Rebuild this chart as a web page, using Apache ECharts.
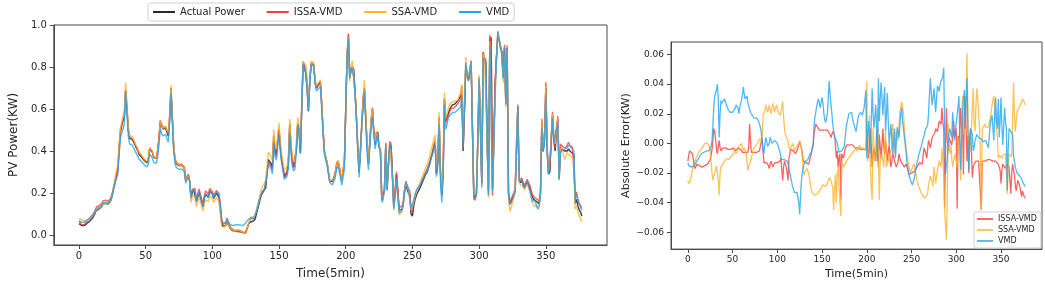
<!DOCTYPE html>
<html><head><meta charset="utf-8">
<script src="https://cdn.jsdelivr.net/npm/echarts@6/dist/echarts.min.js"></script>
<style>html,body{margin:0;padding:0;background:#fff}#c{width:1045px;height:285px}</style>
</head><body><div id="c"></div>
<script>
// Actual PV power (KW), one value per 5-minute step, index 0..377
const actualPower = [
.055,.050,.046,.044,.045,.049,.055,.060,.066,.072,
.080,.090,.102,.118,.124,.124,.126,.135,.148,.152,
.151,.149,.147,.150,.165,.190,.220,.250,.280,.310,
.400,.490,.520,.545,.560,.690,.600,.500,.460,.455,
.455,.450,.430,.415,.405,.385,.380,.370,.362,.355,
.348,.345,.360,.410,.415,.395,.370,.365,.365,.400,
.460,.540,.520,.505,.500,.510,.490,.470,.560,.700,
.560,.420,.360,.340,.335,.330,.330,.332,.335,.318,
.260,.265,.285,.260,.175,.205,.215,.210,.160,.180,
.205,.200,.160,.135,.175,.195,.190,.180,.210,.205,
.195,.175,.170,.200,.205,.180,.125,.060,.043,.042,
.045,.062,.050,.035,.028,.022,.020,.019,.018,.017,
.017,.016,.014,.012,.008,.010,.030,.050,.060,.068,
.065,.066,.075,.100,.125,.150,.175,.195,.205,.215,
.225,.300,.360,.365,.340,.320,.470,.400,.380,.450,
.505,.420,.360,.320,.280,.275,.300,.350,.530,.420,
.350,.325,.330,.410,.530,.500,.390,.600,.810,.800,
.770,.700,.590,.720,.810,.810,.810,.730,.700,.710,
.720,.730,.620,.500,.400,.370,.345,.300,.258,.255,
.255,.258,.290,.330,.350,.330,.290,.262,.262,.350,
.600,.850,.950,.750,.790,.800,.790,.680,.560,.420,
.300,.400,.520,.640,.700,.560,.430,.340,.440,.540,
.600,.500,.430,.480,.490,.420,.400,.170,.170,.210,
.430,.220,.330,.430,.420,.280,.130,.200,.290,.210,
.120,.115,.120,.140,.200,.240,.220,.200,.190,.100,
.090,.140,.170,.190,.205,.215,.230,.245,.260,.275,
.290,.300,.320,.340,.370,.390,.420,.440,.290,.350,
.560,.300,.190,.300,.650,.540,.560,.580,.600,.610,
.620,.620,.625,.630,.640,.650,.660,.670,.400,.600,
.810,.760,.740,.780,.830,.500,.190,.180,.200,.450,
.750,.500,.250,.870,.840,.820,.450,.210,.930,.940,
.220,.450,.720,.850,.950,.930,.900,.870,.750,.890,
.620,.890,.200,.150,.160,.175,.190,.210,.400,.610,
.260,.250,.260,.240,.225,.230,.255,.240,.225,.200,
.180,.170,.165,.160,.155,.150,.200,.540,.400,.450,
.700,.400,.290,.300,.450,.570,.450,.400,.500,.550,
.270,.400,.410,.405,.400,.395,.400,.410,.400,.395,
.390,.380,.150,.170,.140,.120,.110,.090
];
// Absolute error (KW) = actual - prediction
const errISSA = [
-.012,-.008,-.005,-.004,-.005,-.007,-.010,-.015,-.017,-.016,
-.014,-.014,-.015,-.015,-.015,-.016,-.016,-.015,-.015,-.015,
-.015,-.014,-.014,-.014,-.013,-.011,-.008,-.004,.002,.010,
.008,.003,-.004,-.007,-.002,.002,-.003,-.005,-.004,-.003,
-.003,-.004,-.003,-.003,-.004,-.004,-.005,-.005,-.004,-.004,
-.004,-.003,-.004,-.005,-.005,-.004,-.003,-.002,-.003,-.004,
-.005,-.006,-.007,-.007,-.006,-.006,-.006,-.006,-.003,.013,
.002,-.006,-.006,-.006,-.006,-.006,-.006,-.006,-.006,-.006,
-.005,-.005,-.004,.004,-.005,-.013,-.012,-.012,-.013,-.014,
-.015,-.017,-.014,-.012,-.014,-.016,-.015,-.013,-.012,-.012,
-.013,-.013,-.013,-.012,-.010,-.018,-.025,-.016,-.012,-.014,
-.016,-.020,-.025,-.010,-.007,-.004,-.004,-.005,-.005,-.006,
-.007,-.007,-.005,-.003,-.002,.001,.002,-.003,-.007,-.012,
-.012,-.013,-.013,-.013,-.014,-.014,-.012,-.009,-.007,-.003,
-.001,.006,.010,.013,.012,.011,.010,.009,.008,.008,
.009,.010,.010,.009,.008,.008,.009,.009,.009,.006,
.004,.006,.008,.007,.006,-.002,-.010,-.005,-.016,-.010,
-.007,-.038,-.007,-.008,-.010,-.006,-.003,-.002,-.001,-.001,
-.001,-.001,-.001,-.001,-.001,-.002,-.002,-.003,-.003,-.003,
-.003,-.003,-.003,-.004,-.004,-.004,-.004,-.004,-.004,-.004,
.004,-.003,-.010,0,.010,-.002,-.016,-.008,-.003,-.008,
-.012,.008,-.005,-.016,.006,-.002,-.010,0,.010,-.002,
-.007,.002,-.005,-.012,-.006,-.001,-.010,-.016,-.012,-.007,
-.009,-.012,-.014,-.016,-.014,-.012,-.007,-.010,-.012,-.013,
-.014,-.015,-.016,-.015,-.014,-.016,-.018,-.021,-.021,-.021,
-.020,-.021,-.020,-.019,-.018,-.017,-.016,-.015,-.014,-.013,
-.012,-.013,-.014,-.008,-.003,-.005,-.007,-.010,-.004,.002,
0,-.003,0,.004,.004,.004,.007,.010,.009,.008,
.012,.015,.014,.013,.024,.015,.010,-.043,-.005,.024,
.002,-.005,.004,.002,.001,-.001,.005,.015,.004,.007,
.010,-.044,.005,-.001,.010,.024,.010,.017,-.021,.017,
.032,.010,-.012,.005,-.020,.004,.010,-.005,-.023,-.016,
-.014,-.014,-.012,-.012,-.012,-.012,-.012,-.012,-.045,-.012,
-.012,-.012,-.012,-.011,-.011,-.011,-.011,-.011,-.011,-.012,
-.012,-.012,-.013,-.013,-.012,-.012,-.012,-.014,-.016,-.018,
-.027,-.018,-.014,-.015,-.015,-.017,-.018,-.014,-.015,-.016,
-.025,-.034,-.020,-.014,-.018,-.021,-.028,-.032,-.028,-.025,
-.027,-.029,-.032,-.036,-.032,-.034,-.036,-.037
];
const errSSA = [
-.025,-.027,-.028,-.025,-.021,-.018,-.016,-.014,-.012,-.010,
-.009,-.008,-.006,-.005,-.005,-.004,-.003,-.002,-.001,0,
0,.001,0,0,-.002,-.005,-.012,-.020,-.025,-.022,
-.021,-.018,-.015,-.020,-.025,-.035,-.020,-.016,-.015,-.014,
-.013,-.012,-.011,-.010,-.010,-.011,-.011,-.010,-.009,-.008,
-.008,-.007,-.005,-.006,-.007,-.006,-.004,-.002,-.002,-.001,
0,-.003,-.005,-.003,-.004,-.006,-.012,-.018,-.016,-.014,
-.012,-.010,-.007,-.004,-.003,-.002,-.002,-.001,0,0,
.003,.004,.003,.002,.019,.020,.022,.026,.024,.021,
.023,.026,.022,.020,.024,.027,.023,.021,.024,.026,
.023,.021,.020,.019,.020,.024,.028,.018,.010,.006,
.004,.003,.002,-.003,-.005,-.003,-.002,0,-.002,-.005,
-.004,-.003,-.003,-.001,0,.002,.003,-.004,-.010,-.018,
-.021,-.019,-.018,-.017,-.016,-.020,-.024,-.028,-.031,-.033,
-.034,-.034,-.035,-.035,-.035,-.034,-.033,-.032,-.031,-.030,
-.029,-.028,-.027,-.028,-.029,-.029,-.027,-.025,-.023,-.024,
-.025,-.025,-.030,-.045,-.030,-.021,-.040,-.020,-.016,-.029,
-.040,-.049,-.012,-.014,-.016,-.015,-.014,-.013,-.011,-.011,
-.010,-.009,-.008,-.007,-.007,-.006,-.005,-.004,-.003,-.005,
-.006,-.003,-.001,-.003,-.004,-.004,-.003,-.003,-.004,-.005,
.042,-.012,.005,.019,-.016,-.030,-.038,.010,-.002,-.012,
-.009,-.007,.024,-.010,-.038,-.012,-.009,-.007,-.012,-.016,
0,.008,-.016,-.014,-.012,-.009,-.007,-.005,-.003,.013,
0,-.007,0,.008,.004,.002,.012,.021,.025,.028,
.024,.021,.010,.004,-.004,-.007,-.012,-.015,-.018,-.020,
-.021,-.016,-.015,-.014,-.018,-.021,-.025,-.027,-.029,-.030,
-.032,-.033,-.035,-.036,-.036,-.037,-.038,-.036,-.034,-.028,
-.025,-.022,-.021,-.026,-.029,-.016,-.022,-.027,-.022,-.018,
-.015,-.012,-.014,-.016,-.003,-.012,-.020,-.045,-.055,-.065,
-.038,.013,-.003,-.007,-.001,-.010,-.016,-.012,-.009,-.007,
-.012,-.016,-.005,.004,-.010,-.025,.010,.032,.006,.008,
.010,.030,.061,.021,-.016,-.005,.004,.010,.025,.037,
.013,.008,.025,.037,.030,.020,.010,-.010,-.045,.010,
.010,.011,.013,.011,.010,.010,.011,.014,.017,.021,
.026,.029,.032,.025,.017,.010,.004,-.010,-.008,-.007,
-.009,-.010,-.008,-.007,-.007,-.007,-.020,-.034,-.015,-.007,
-.007,-.008,-.009,-.010,.041,.020,.008,.015,.021,.023,
.024,.025,.026,.028,.030,.029,.028,.026
];
const errVMD = [
-.013,-.015,-.016,-.016,-.016,-.016,-.016,-.015,-.014,-.013,
-.012,-.011,-.010,-.009,-.008,-.007,-.007,-.006,-.006,-.005,
-.005,-.005,-.006,-.005,-.005,-.004,-.002,.002,.012,.025,
.032,.033,.036,.040,.030,.004,.020,.029,.027,.026,
.027,.030,.028,.026,.025,.023,.022,.021,.021,.020,
.021,.020,.022,.024,.026,.027,.024,.020,.024,.027,
.029,.033,.038,.033,.030,.031,.032,.028,.025,.023,
.021,.020,.019,.018,.017,.018,.018,.017,.016,.015,
.013,.011,.008,.001,-.004,-.007,-.001,.004,.002,-.002,
-.003,0,.004,.002,0,-.001,.001,.002,.003,.001,
0,-.001,-.004,-.006,-.009,-.011,-.012,-.012,-.011,-.010,
-.011,-.012,-.014,-.017,-.020,-.023,-.026,-.029,-.031,-.033,
-.034,-.033,-.033,-.033,-.040,-.048,-.035,-.025,-.019,-.016,
-.014,-.012,-.012,-.011,-.011,-.010,-.008,-.007,-.006,-.004,
-.002,.012,.018,.021,.025,.028,.030,.027,.024,.028,
.031,.027,.020,.016,.014,.013,.020,.032,.042,.033,
.026,.020,.013,.008,.004,.003,.002,0,-.003,-.006,
-.006,-.005,-.005,-.005,-.003,-.001,.005,.011,.014,.017,
.020,.020,.021,.021,.017,.014,.012,.010,.008,.012,
.016,.019,.020,.021,.020,.019,.018,.024,.030,.036,
-.010,.005,.015,.005,-.007,.015,.037,.020,.010,.018,
.026,.008,-.012,.044,.015,.030,.041,.030,.019,.030,
.038,.008,.020,.034,.015,-.001,.006,.013,.003,-.007,
.002,.010,-.010,0,.011,.008,.004,.012,.020,.024,
.015,.010,.004,-.001,-.007,-.013,-.017,-.021,-.023,-.025,
-.026,-.028,-.026,-.024,-.020,-.017,-.013,-.011,-.008,-.006,
-.005,-.002,.001,.003,.005,.008,.010,.011,.012,.020,
.032,.044,.035,.026,.030,.037,.030,.021,.030,.039,
.037,.035,.040,.042,.043,.045,.051,.010,-.021,-.015,
-.010,0,.008,.010,.006,.004,.021,.012,.002,.008,
.014,.019,.025,.032,.005,-.018,.005,.021,.030,.036,
.010,.030,.044,.010,-.018,-.002,.010,.008,.006,-.005,
-.003,.002,.004,.006,.005,.004,.004,.004,.003,.002,
.001,0,.001,.002,0,-.001,-.003,.005,.013,.016,
.019,.010,.002,.020,.031,.015,.010,.030,.004,.015,
.031,.012,-.001,.010,.024,.015,.010,-.032,-.005,.010,
.009,.008,.007,.006,-.008,-.012,-.016,-.018,-.020,-.021,
-.021,-.022,-.022,-.024,-.025,-.027,-.028,-.029
];
const seriesNames = ['Actual Power','ISSA-VMD','SSA-VMD','VMD'];
const xTicks = [0,50,100,150,200,250,300,350];
const powerTicks = [0,0.2,0.4,0.6,0.8,1.0];
const errTicks = [-0.06,-0.04,-0.02,0,0.02,0.04,0.06];

const colors = {'Actual Power':'#2a2a2a','ISSA-VMD':'#ff3a3a','SSA-VMD':'#ffb32a','VMD':'#22a6f2'};
const FONT = 'DejaVu Sans';
const TXT = '#262626';
const AX = '#4a4a4a';

// predictions recovered from actual and plotted errors (error = actual - prediction)
const predOf = err => actualPower.map((v,i)=> v - err[i]);
const leftData = {
  'Actual Power': actualPower,
  'ISSA-VMD': predOf(errISSA),
  'SSA-VMD': predOf(errSSA),
  'VMD': predOf(errVMD)
};
const rightData = {'ISSA-VMD': errISSA, 'SSA-VMD': errSSA, 'VMD': errVMD};
const pairs = arr => arr.map((v,i)=>[i,v]);

function xAx(grid, nameGap, fs, nfs){
  return {type:'value', gridIndex:grid, min:-18.85, max:395.85,
    axisLine:{show:true,onZero:false,lineStyle:{color:AX,width:1}},
    axisTick:{show:true,customValues:xTicks,length:4,lineStyle:{color:AX}},
    axisLabel:{customValues:xTicks,fontSize:fs,color:TXT,fontFamily:FONT,margin:6},
    splitLine:{show:false},
    name:'Time(5min)', nameLocation:'middle', nameGap:nameGap,
    nameTextStyle:{fontSize:nfs,color:TXT,fontFamily:FONT}};
}
const minus = v => (v<0?'\u2212':'') + Math.abs(v).toFixed(2);

const series = [];
seriesNames.forEach(n=>{
  series.push({name:n,type:'line',xAxisIndex:0,yAxisIndex:0,symbol:'none',
    lineStyle:{width:1.4,color:colors[n],opacity:n==='Actual Power'?0.9:0.8},
    itemStyle:{color:colors[n]},data:pairs(leftData[n]),animation:false});
});
['ISSA-VMD','SSA-VMD','VMD'].forEach(n=>{
  series.push({name:n,type:'line',xAxisIndex:1,yAxisIndex:1,symbol:'none',
    lineStyle:{width:1.3,color:colors[n],opacity:0.8},
    itemStyle:{color:colors[n]},data:pairs(rightData[n]),animation:false});
});

const chart = echarts.init(document.getElementById('c'),null,{renderer:'canvas'});
chart.setOption({
  backgroundColor:'#fff',
  animation:false,
  textStyle:{fontFamily:FONT},
  grid:[
    {left:41,top:25,width:566,height:225,show:true,borderColor:AX,borderWidth:1,backgroundColor:'transparent'},
    {left:671,top:42,width:371,height:210,show:true,borderColor:AX,borderWidth:1,backgroundColor:'transparent'}
  ],
  legend:[
    {data:seriesNames,left:148,top:3,orient:'horizontal',icon:'rect',itemWidth:22,itemHeight:2,itemGap:22,
     padding:[4,5,4,5],borderColor:'#d0d0d0',borderWidth:1,borderRadius:3,backgroundColor:'#fff',
     textStyle:{fontSize:10,color:TXT,fontFamily:FONT}},
    {data:['ISSA-VMD','SSA-VMD','VMD'],left:974,top:212,orient:'vertical',icon:'rect',itemWidth:16,itemHeight:1.5,itemGap:3,
     padding:[3,4,3,3],borderColor:'#d0d0d0',borderWidth:1,borderRadius:2,backgroundColor:'#fff',
     textStyle:{fontSize:8,color:TXT,fontFamily:FONT}}
  ],
  xAxis:[ xAx(0,23,10,12), xAx(1,19,9,11) ],
  yAxis:[
    {type:'value',gridIndex:0,min:-0.047,max:1.0,
     axisLine:{show:true,onZero:false,lineStyle:{color:AX}},
     axisTick:{show:true,customValues:powerTicks,length:4,lineStyle:{color:AX}},
     axisLabel:{customValues:powerTicks,fontSize:10,color:TXT,fontFamily:FONT,margin:7,formatter:v=>v.toFixed(1)},
     splitLine:{show:false},
     name:'PV Power(KW)',nameLocation:'middle',nameGap:25,
     nameTextStyle:{fontSize:12,color:TXT,fontFamily:FONT}},
    {type:'value',gridIndex:1,min:-0.0713,max:0.0684,
     axisLine:{show:true,onZero:false,lineStyle:{color:AX}},
     axisTick:{show:true,customValues:errTicks,length:4,lineStyle:{color:AX}},
     axisLabel:{customValues:errTicks,fontSize:9,color:TXT,fontFamily:FONT,margin:7,formatter:minus},
     splitLine:{show:false},
     name:'Absolute Error(KW)',nameLocation:'middle',nameGap:39,
     nameTextStyle:{fontSize:11,color:TXT,fontFamily:FONT}}
  ],
  series:series
});
</script>
</body></html>
